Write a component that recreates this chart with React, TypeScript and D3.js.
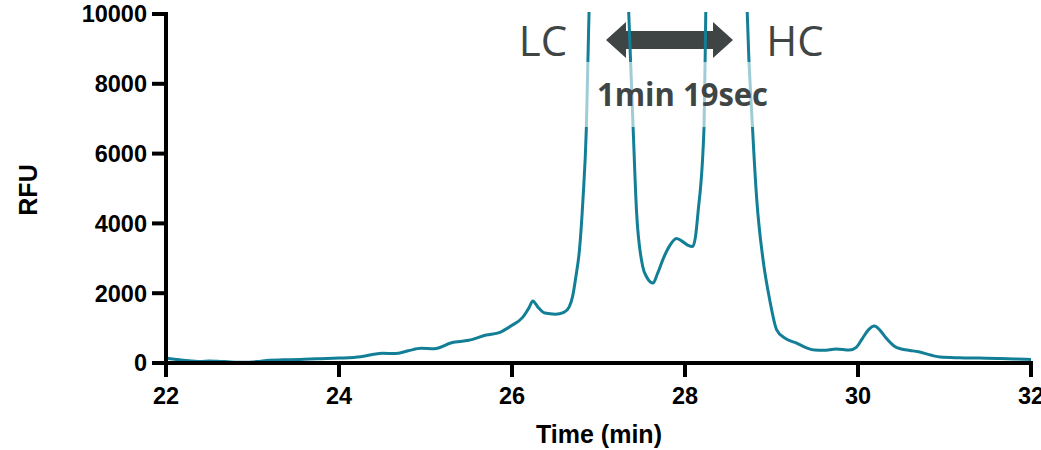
import React from "react";
import * as d3 from "d3";

const times = [22.0,22.1,22.2,22.3,22.4,22.5,22.6,22.75,22.9,23.05,23.2,23.35,23.55,23.75,24.0,24.25,24.4,24.5,24.65,24.8,24.95,25.1,25.3,25.5,25.7,25.86,26.0,26.12,26.2,26.24,26.3,26.38,26.5,26.6,26.66,26.7,26.74,26.78,26.82,26.86,26.89,26.93,27.0,27.1,27.25,27.32,27.35,27.4,27.44,27.51,27.56,27.63,27.68,27.75,27.82,27.9,27.96,28.03,28.09,28.12,28.15,28.22,28.24,28.3,28.45,28.6,28.7,28.72,28.78,28.83,28.9,28.98,29.06,29.15,29.29,29.4,29.5,29.6,29.75,29.9,29.98,30.05,30.12,30.19,30.26,30.33,30.42,30.5,30.6,30.7,30.85,30.95,31.17,31.4,31.64,31.8,32.0];
const rfu = [140,110,80,60,40,60,50,30,20,40,80,90,100,120,140,180,250,280,270,350,420,410,580,650,800,880,1080,1300,1600,1780,1600,1430,1400,1450,1600,1900,2500,3240,4670,6760,10000,16000,30000,40000,20000,12000,10000,6760,4330,2780,2450,2290,2550,3000,3350,3570,3500,3380,3340,3600,4300,6760,10000,20000,35000,20000,12000,10000,6760,4670,3000,1800,950,720,570,440,370,365,400,370,450,700,950,1060,920,700,480,400,360,320,220,170,150,140,130,115,100];

const xTicks = [22, 24, 26, 28, 30, 32];
const yTicks = [0, 2000, 4000, 6000, 8000, 10000];
const xTitle = "Time (min)";
const yTitle = "RFU";
const lcLabel = "LC";
const hcLabel = "HC";
const gapLabel = "1min 19sec";

export default function App() {
  const x = d3.scaleLinear().domain([22, 32]).range([166, 1031]);
  const y = d3.scaleLinear().domain([0, 10000]).range([363, 14]);
  const data = times.map((t, i) => [t, rfu[i]] as [number, number]);
  const line = d3
    .line<[number, number]>()
    .x((d) => x(d[0]))
    .y((d) => y(d[1]))
    .curve(d3.curveMonotoneX);

  const teal = "#137f97";
  const gray = "#3f4545";
  const tickFont = "'Liberation Sans', Arial, sans-serif";

  const ax0 = 606, ax1 = 733, ay = 40;
  const headLen = 20, headHalf = 18, shaftHalf = 9;
  const arrowPts = [
    [ax0, ay],
    [ax0 + headLen, ay - headHalf],
    [ax0 + headLen, ay - shaftHalf],
    [ax1 - headLen, ay - shaftHalf],
    [ax1 - headLen, ay - headHalf],
    [ax1, ay],
    [ax1 - headLen, ay + headHalf],
    [ax1 - headLen, ay + shaftHalf],
    [ax0 + headLen, ay + shaftHalf],
    [ax0 + headLen, ay + headHalf],
  ]
    .map((p) => p.join(","))
    .join(" ");

  return (
    <svg
      width={1041}
      height={450}
      style={{ position: "absolute", left: 0, top: 0, background: "#fff" }}
    >
      <defs>
        <clipPath id="plotClip">
          <rect x={166} y={12} width={870} height={352} />
        </clipPath>
      </defs>

      <polygon points={arrowPts} fill={gray} />

      <path
        d={line(data) || ""}
        fill="none"
        stroke={teal}
        strokeWidth={3}
        clipPath="url(#plotClip)"
      />

      <rect x={578} y={62} width={192} height={65} fill="#fff" opacity={0.6} />

      <text
        x={543}
        y={56}
        textAnchor="middle"
        fontFamily="'Open Sans', 'Noto Sans', sans-serif"
        fontSize={42}
        fill={gray}
      >
        {lcLabel}
      </text>
      <text
        x={795}
        y={56}
        textAnchor="middle"
        fontFamily="'Open Sans', 'Noto Sans', sans-serif"
        fontSize={42}
        fill={gray}
      >
        {hcLabel}
      </text>
      <text
        x={597}
        y={106}
        fontFamily="'Open Sans', 'Noto Sans', sans-serif"
        fontWeight={700}
        fontSize={32}
        textLength={171}
        lengthAdjust="spacingAndGlyphs"
        fill={gray}
      >
        {gapLabel}
      </text>

      <line x1={166} x2={166} y1={12} y2={365} stroke="#000" strokeWidth={4} />
      <line x1={164} x2={1033} y1={363} y2={363} stroke="#000" strokeWidth={4} />
      {yTicks.map((v) => (
        <g key={"y" + v}>
          <line x1={152} x2={166} y1={y(v)} y2={y(v)} stroke="#000" strokeWidth={4} />
          <text
            x={147}
            y={y(v)}
            dy="0.36em"
            textAnchor="end"
            fontFamily={tickFont}
            fontWeight={700}
            fontSize={23.5}
          >
            {v}
          </text>
        </g>
      ))}
      {xTicks.map((v) => (
        <g key={"x" + v}>
          <line x1={x(v)} x2={x(v)} y1={363} y2={377} stroke="#000" strokeWidth={4} />
          <text
            x={x(v)}
            y={404}
            textAnchor="middle"
            fontFamily={tickFont}
            fontWeight={700}
            fontSize={23.5}
          >
            {v}
          </text>
        </g>
      ))}
      <text
        x={599}
        y={443}
        textAnchor="middle"
        fontFamily={tickFont}
        fontWeight={700}
        fontSize={25}
      >
        {xTitle}
      </text>
      <text
        transform="translate(37,190) rotate(-90)"
        textAnchor="middle"
        fontFamily={tickFont}
        fontWeight={700}
        fontSize={25}
      >
        {yTitle}
      </text>
    </svg>
  );
}
